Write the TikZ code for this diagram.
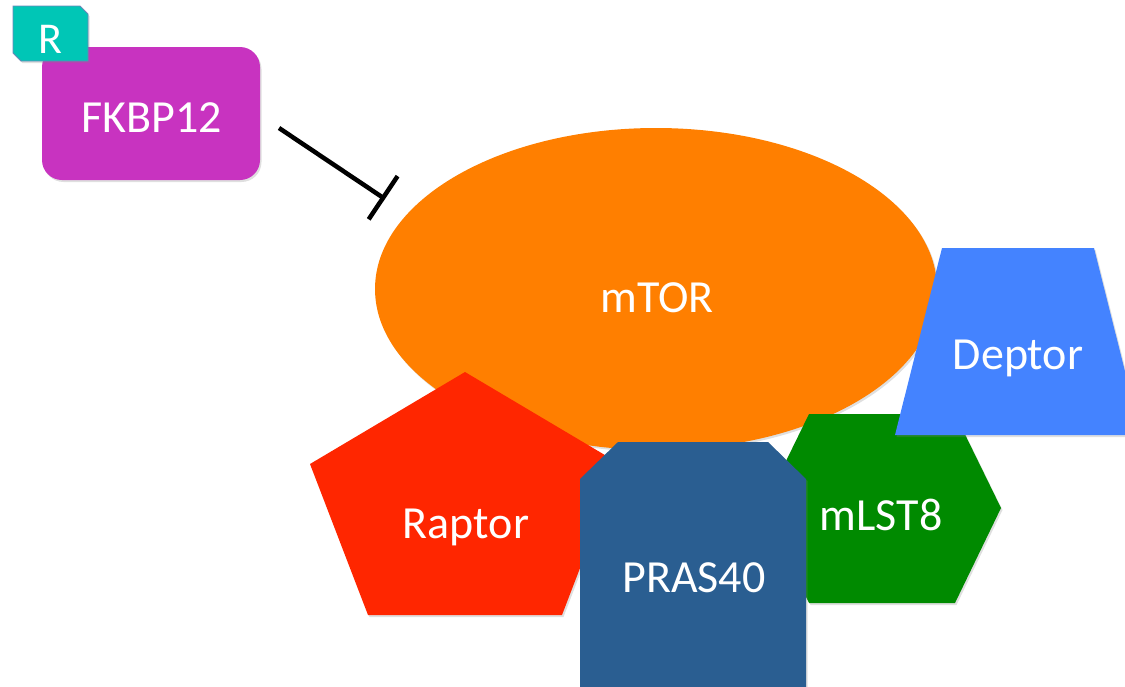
\documentclass[tikz,border=0pt]{standalone}
\usepackage{fontspec}
\setmainfont{Carlito}
\usetikzlibrary{shapes.geometric,shadows,arrows.meta}
\definecolor{cTeal}{HTML}{00C6B6}
\definecolor{cTealBorder}{HTML}{6A86B8}
\definecolor{cMagenta}{HTML}{C833C0}
\definecolor{cOrange}{HTML}{FF7F00}
\definecolor{cRed}{HTML}{FF2600}
\definecolor{cNavy}{HTML}{2A5E91}
\definecolor{cGreen}{HTML}{008A00}
\definecolor{cBlue}{HTML}{4483FF}
\tikzset{
  shade/.style={drop shadow={opacity=0.25,shadow xshift=1.5pt,shadow yshift=-2pt}},
  lbl/.style={text=white,font=\fontsize{46}{55}\selectfont,inner sep=0pt},
  inhibit/.style={line width=4.5pt,-{Bar[width=52pt,line width=4.5pt]}}
}
\begin{document}
\begin{tikzpicture}[x=1pt,y=-1pt]
\useasboundingbox (0,0) rectangle (1125,686);
\clip (0,0) rectangle (1125,686);
% mTOR
\node[ellipse,fill=cOrange,minimum width=562pt,minimum height=322pt,inner sep=0pt,shade] (mtor) at (656,289) {};
\node[lbl] (mtorlbl) at (657,298) {mTOR};
% Raptor pentagon
\path[fill=cRed,shade] (465,372) -- (620,464) -- (562,615) -- (368,615) -- (310,464) -- cycle;
\node[lbl] (raptor) at (466,527) {Raptor};
% mLST8 hexagon
\path[fill=cGreen,shade] (809,414) -- (955,414) -- (1001,508) -- (955,603) -- (809,603) -- (763,508) -- cycle;
\node[lbl] (mlst8) at (881,515) {mLST8};
% PRAS40
\path[fill=cNavy,shade] (618,442) -- (768,442) -- (806,479) -- (806,700) -- (580,700) -- (580,479) -- cycle;
\node[lbl] (pras40) at (694,578) {PRAS40};
% Deptor trapezoid
\path[fill=cBlue,shade] (942,248) -- (1094,248) -- (1141,435) -- (895,435) -- cycle;
\node[lbl] (deptor) at (1018,358) {Deptor};
% FKBP12
\node[rectangle,rounded corners=20pt,fill=cMagenta,minimum width=218pt,minimum height=133pt,inner sep=0pt,shade] (fkbp) at (151,113.5) {};
\node[lbl] (fkbplbl) at (152,118) {FKBP12};
% R tag
\path[fill=cTeal,draw=cTealBorder,line width=0.8pt,shade] (13,6) -- (80,6) -- (88,14) -- (88,61) -- (21,61) -- (13,53) -- cycle;
\node[lbl,font=\fontsize{44}{52}\selectfont] (rtag) at (50,39) {R};
% inhibition
\coordinate (inhA) at (279,128);
\coordinate (inhB) at (385,199);
\draw[inhibit] (inhA) -- (inhB);
\end{tikzpicture}
\end{document}
